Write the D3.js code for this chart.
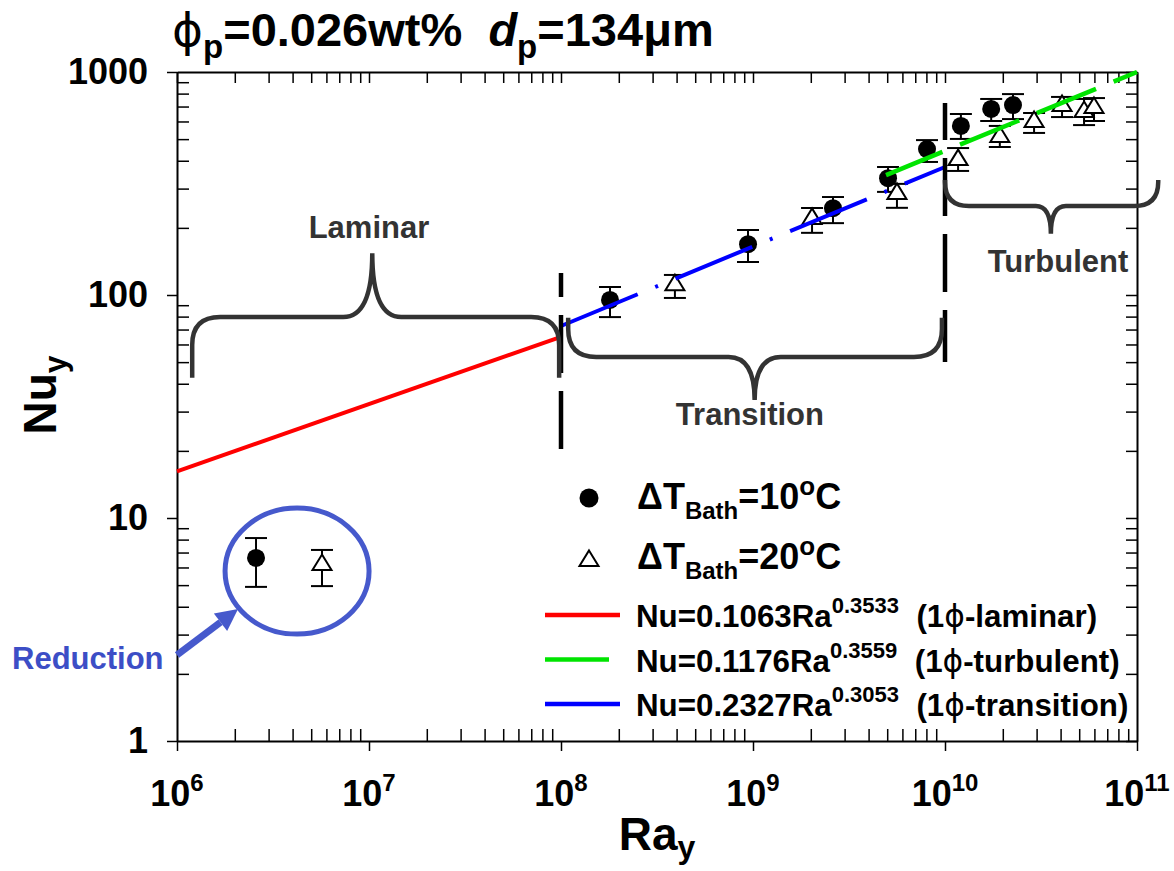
<!DOCTYPE html>
<html><head><meta charset="utf-8">
<script src="https://cdn.jsdelivr.net/npm/d3@7"></script>
<style>
body{margin:0;background:#fff;}
svg{font-family:"Liberation Sans",Arial,Helvetica,sans-serif;font-weight:bold;}
text{white-space:pre;}
</style></head><body>
<svg id="chart" width="1174" height="871"></svg>
<script>
// ---------- data ----------
const xTickValues = [1e6, 1e7, 1e8, 1e9, 1e10, 1e11];
const xTickExponents = ["6", "7", "8", "9", "10", "11"];
const yTickValues = [1, 10, 100, 1000];
const yTickLabels = ["1", "10", "100", "1000"];

// ΔT_Bath = 10°C (filled circles)
const ra10  = [2.58e6, 1.80e8, 9.42e8, 2.61e9, 5.05e9, 8.06e9, 1.21e10, 1.74e10, 2.26e10];
const nu10  = [6.62, 95, 169, 245, 334, 451, 573, 683, 711];
const nu10Hi = [8.13, 108.6, 195.6, 275, 375, 495, 648, 757, 796];
const nu10Lo = [4.91, 79.6, 140.6, 210, 290, 395, 501, 603, 615];

// ΔT_Bath = 20°C (open triangles)
const ra20  = [5.69e6, 3.92e8, 2.03e9, 5.62e9, 1.17e10, 1.93e10, 2.91e10, 4.07e10, 5.30e10, 5.97e10];
const nu20  = [6.28, 113, 224, 290, 411, 522, 609, 719, 675, 704];
const nu20Hi = [7.19, 123, 245.6, 315, 456, 573, 655, 773, 757, 764];
const nu20Lo = [4.95, 97, 190, 246, 360, 461, 533, 628, 578, 603];

// single-phase correlations as drawn
const laminarFit    = [[1e6, 16.2], [1e8, 64.9]];
const transitionFit = [[1e8, 72.6], [1e10, 375]];
const turbulentFit  = [[4.93e9, 345], [1e11, 1000]];

// regime boundaries
const boundaryRa = [1e8, 1e10];
const boundaryNuLo = [20.2, 50.1];
const boundaryNuHi = [125.6, 726];

// braces: [Ra start, Ra end, Ra tip, Nu end, Nu flat, Nu tip]
const braceNames = ["Laminar", "Transition", "Turbulent"];
const braceRa0 = [1.2e6, 1.09e8, 1e10];
const braceRa1 = [9.78e7, 9.64e9, 1.29e11];
const braceRaTip = [1.04e7, 1.02e9, 3.56e10];
const braceNuEnd = [42.5, 79, 328];
const braceNuFlat = [79.6, 52.7, 250.6];
const braceNuTip = [154, 33.8, 188];
const braceLabelRa = [1.0e7, 9.64e8, 3.88e10];
const braceLabelNu = [180, 26.1, 126.8];

// reduction annotation
const reductionCenter = [4.22e6, 5.78];
const reductionArrow = [[1e6, 2.43], [2.08e6, 3.91]];

const legendSeries = ["10", "20"];
const legendFits = [
  {coef: "0.1063", exp: "0.3533", name: "laminar"},
  {coef: "0.1176", exp: "0.3559", name: "turbulent"},
  {coef: "0.2327", exp: "0.3053", name: "transition"}
];

// ---------- scales ----------
const svg = d3.select("#chart");
const x = d3.scaleLog().domain([1e6, 1e11]).range([177, 1137]);
const y = d3.scaleLog().domain([1, 1000]).range([741, 72]);

const minorX = [], minorY = [];
for (let k = 6; k <= 10; k++) for (let m = 2; m <= 9; m++) minorX.push(m * Math.pow(10, k));
for (let k = 0; k <= 2; k++) for (let m = 2; m <= 9; m++) minorY.push(m * Math.pow(10, k));
const allX = xTickValues.concat(minorX), allY = yTickValues.concat(minorY);

function rich(g, px, py, size, parts, anchor) {
  const t = g.append("text").attr("x", px).attr("y", py).attr("font-size", size)
    .attr("text-anchor", anchor || "start");
  let cur = 0;
  parts.forEach(p => {
    const s = p.shift || 0;
    t.append("tspan").attr("dy", s - cur).attr("font-size", p.size || size)
      .attr("font-style", p.italic ? "italic" : null)
      .attr("font-weight", p.weight || null)
      .attr("font-family", p.family || null).text(p.t);
    cur = s;
  });
  return t;
}
function styleAxis(g) {
  g.select(".domain").attr("stroke", "#000").attr("stroke-width", 2);
  g.selectAll(".tick line").attr("stroke", "#000").attr("stroke-width", 1.5);
}

// ---------- axes ----------
const gBottom = svg.append("g").attr("transform", "translate(0,741)");
gBottom.call(d3.axisBottom(x).tickValues(xTickValues).tickSize(10).tickSizeOuter(0).tickFormat(""));
styleAxis(gBottom);
const gBottomMinor = svg.append("g").attr("transform", "translate(0,741)");
gBottomMinor.call(d3.axisBottom(x).tickValues(minorX).tickSize(-12).tickSizeOuter(0).tickFormat(""));
gBottomMinor.select(".domain").remove(); styleAxis(gBottomMinor);

const gTop = svg.append("g").attr("transform", "translate(0,72)");
gTop.call(d3.axisTop(x).tickValues(allX).tickSize(-11).tickSizeOuter(0).tickFormat(""));
styleAxis(gTop);

const gLeft = svg.append("g").attr("transform", "translate(177,0)");
gLeft.call(d3.axisLeft(y).tickValues(yTickValues).tickSize(10).tickPadding(19).tickSizeOuter(0)
  .tickFormat((d, i) => yTickLabels[i]));
styleAxis(gLeft);
gLeft.selectAll(".tick text").attr("font-size", 36).attr("font-weight", "bold")
  .attr("font-family", "'Liberation Sans', Arial, sans-serif").attr("fill", "#000");
const gLeftMinor = svg.append("g").attr("transform", "translate(177,0)");
gLeftMinor.call(d3.axisLeft(y).tickValues(minorY).tickSize(-12).tickSizeOuter(0).tickFormat(""));
gLeftMinor.select(".domain").remove(); styleAxis(gLeftMinor);

const gRight = svg.append("g").attr("transform", "translate(1137,0)");
gRight.call(d3.axisRight(y).tickValues(allY).tickSize(-11).tickSizeOuter(0).tickFormat(""));
styleAxis(gRight);

// x tick labels 10^n
const xl = svg.append("g");
xTickValues.forEach((v, i) => {
  rich(xl, x(v), 806, 36, [{t: "10"}, {t: xTickExponents[i], size: 24, shift: -15}], "middle");
});

// axis titles
rich(svg, 657, 850, 46, [{t: "Ra"}, {t: "y", size: 32, shift: 8}], "middle");
const yt = svg.append("g").attr("transform", "translate(56,395) rotate(-90)");
rich(yt, 0, 0, 46, [{t: "Nu"}, {t: "y", size: 32, shift: 10}], "middle");

// title
rich(svg, 172, 46, 47, [
  {t: "\u03D5", family: "'DejaVu Sans', sans-serif", weight: "normal"}, {t: "p", size: 33, shift: 12},
  {t: "=0.026wt%  "}, {t: "d", italic: true}, {t: "p", size: 33, shift: 12},
  {t: "=134\u03BCm"}
]);

// ---------- markers ----------
const capW = 11;
const marks = svg.append("g");
function errorBars(ra, hi, lo) {
  ra.forEach((r, i) => {
    const px = x(r);
    marks.append("line").attr("x1", px).attr("x2", px).attr("y1", y(hi[i])).attr("y2", y(lo[i]))
      .attr("stroke", "#000").attr("stroke-width", 2);
    [hi[i], lo[i]].forEach(v => marks.append("line").attr("x1", px - capW).attr("x2", px + capW)
      .attr("y1", y(v)).attr("y2", y(v)).attr("stroke", "#000").attr("stroke-width", 2));
  });
}
errorBars(ra10, nu10Hi, nu10Lo);
errorBars(ra20, nu20Hi, nu20Lo);
const triPath = "M0,-8.5L9.5,7L-9.5,7Z";
marks.selectAll("circle.s10").data(ra10).enter().append("circle")
  .attr("cx", d => x(d)).attr("cy", (d, i) => y(nu10[i])).attr("r", 9).attr("fill", "#000");
marks.selectAll("path.s20").data(ra20).enter().append("path")
  .attr("transform", (d, i) => `translate(${x(d)},${y(nu20[i])})`).attr("d", triPath)
  .attr("fill", "#fff").attr("stroke", "#000").attr("stroke-width", 2);

// ---------- fit lines ----------
const line = d3.line().x(d => x(d[0])).y(d => y(d[1]));
svg.append("path").attr("d", line(laminarFit)).attr("stroke", "#ff0000").attr("stroke-width", 4).attr("fill", "none");
svg.append("path").attr("d", line(transitionFit)).attr("stroke", "#0000ff").attr("stroke-width", 4)
  .attr("fill", "none").attr("stroke-dasharray", "83,19,3,19");
svg.append("path").attr("d", line(turbulentFit)).attr("stroke", "#00e400").attr("stroke-width", 4.5)
  .attr("fill", "none").attr("stroke-dasharray", "64,19").attr("stroke-dashoffset", 3);

// ---------- boundaries ----------
const bOffsets = [34, 21];
boundaryRa.forEach((r, i) => {
  svg.append("line").attr("x1", x(r)).attr("x2", x(r)).attr("y1", y(boundaryNuHi[i])).attr("y2", y(boundaryNuLo[i]))
    .attr("stroke", "#000").attr("stroke-width", 4.5).attr("stroke-dasharray", "58,18")
    .attr("stroke-dashoffset", bOffsets[i]);
});

// ---------- braces ----------
const braceR = [28, 28, 24], braceTipR = [29, 26, 15];
braceNames.forEach((name, i) => {
  const X0 = x(braceRa0[i]), X1 = x(braceRa1[i]), Xt = x(braceRaTip[i]);
  const Ye = y(braceNuEnd[i]), Yf = y(braceNuFlat[i]), Yt = y(braceNuTip[i]);
  const r = braceR[i], r2 = braceTipR[i];
  const s = Math.sign(Ye - Yf);
  const p = d3.path();
  p.moveTo(X0, Ye);
  p.lineTo(X0, Yf + s * Math.min(r, Math.abs(Ye - Yf)));
  p.quadraticCurveTo(X0, Yf, X0 + r, Yf);
  p.lineTo(Xt - r2, Yf);
  p.quadraticCurveTo(Xt, Yf, Xt, Yt);
  p.quadraticCurveTo(Xt, Yf, Xt + r2, Yf);
  p.lineTo(X1 - r, Yf);
  p.quadraticCurveTo(X1, Yf, X1, Yf + s * Math.min(r, Math.abs(Ye - Yf)));
  p.lineTo(X1, Ye);
  svg.append("path").attr("d", p.toString()).attr("fill", "none").attr("stroke", "#333")
    .attr("stroke-width", 4.5).attr("stroke-linecap", "butt");
  svg.append("text").attr("x", x(braceLabelRa[i])).attr("y", y(braceLabelNu[i]))
    .attr("text-anchor", "middle").attr("font-size", 31).attr("fill", "#333").text(name);
});

// ---------- reduction annotation ----------
const blue2 = "#4659cc";
svg.append("ellipse").attr("cx", x(reductionCenter[0])).attr("cy", y(reductionCenter[1]))
  .attr("rx", 72).attr("ry", 63).attr("fill", "none").attr("stroke", blue2).attr("stroke-width", 5);
{
  const a0 = [x(reductionArrow[0][0]), y(reductionArrow[0][1])];
  const a1 = [x(reductionArrow[1][0]), y(reductionArrow[1][1])];
  const ang = Math.atan2(a1[1] - a0[1], a1[0] - a0[0]);
  const hl = 22, hw = 11;
  const bx = a1[0] - hl * Math.cos(ang), by = a1[1] - hl * Math.sin(ang);
  svg.append("line").attr("x1", a0[0]).attr("y1", a0[1]).attr("x2", bx).attr("y2", by)
    .attr("stroke", blue2).attr("stroke-width", 7);
  const nx = -Math.sin(ang), ny = Math.cos(ang);
  svg.append("path").attr("d", `M${a1[0]},${a1[1]}L${bx + nx * hw},${by + ny * hw}L${bx - nx * hw},${by - ny * hw}Z`)
    .attr("fill", blue2);
}
svg.append("text").attr("x", 12).attr("y", 669).attr("font-size", 31).attr("fill", "#3c4ec6").text("Reduction");

// ---------- legend ----------
const lg = svg.append("g");
lg.append("circle").attr("cx", 589).attr("cy", 498).attr("r", 9.5).attr("fill", "#000");
lg.append("path").attr("transform", "translate(589,559)").attr("d", triPath)
  .attr("fill", "#fff").attr("stroke", "#000").attr("stroke-width", 2);
legendSeries.forEach((v, i) => {
  rich(lg, 637, 509 + i * 60, 36, [
    {t: "\u0394T"}, {t: "Bath", size: 24, shift: 10}, {t: "=" + v}, {t: "o", size: 26, shift: -14}, {t: "C"}
  ]);
});
const fitColors = ["#ff0000", "#00e400", "#0000ff"];
const fitDash = [null, "64,19", "83,19,3,19"];
legendFits.forEach((f, i) => {
  const ly = 615 + i * 44.5;
  lg.append("line").attr("x1", 545).attr("x2", 620).attr("y1", ly).attr("y2", ly)
    .attr("stroke", fitColors[i]).attr("stroke-width", 4.5).attr("stroke-dasharray", fitDash[i]);
  rich(lg, 636, ly + 12, 31.3, [
    {t: "Nu=" + f.coef + "Ra"}, {t: f.exp, size: 22, shift: -14},
    {t: "  (1"}, {t: "\u03D5", family: "'DejaVu Sans', sans-serif", weight: "normal"}, {t: "-" + f.name + ")"}
  ]);
});
</script>
</body></html>
